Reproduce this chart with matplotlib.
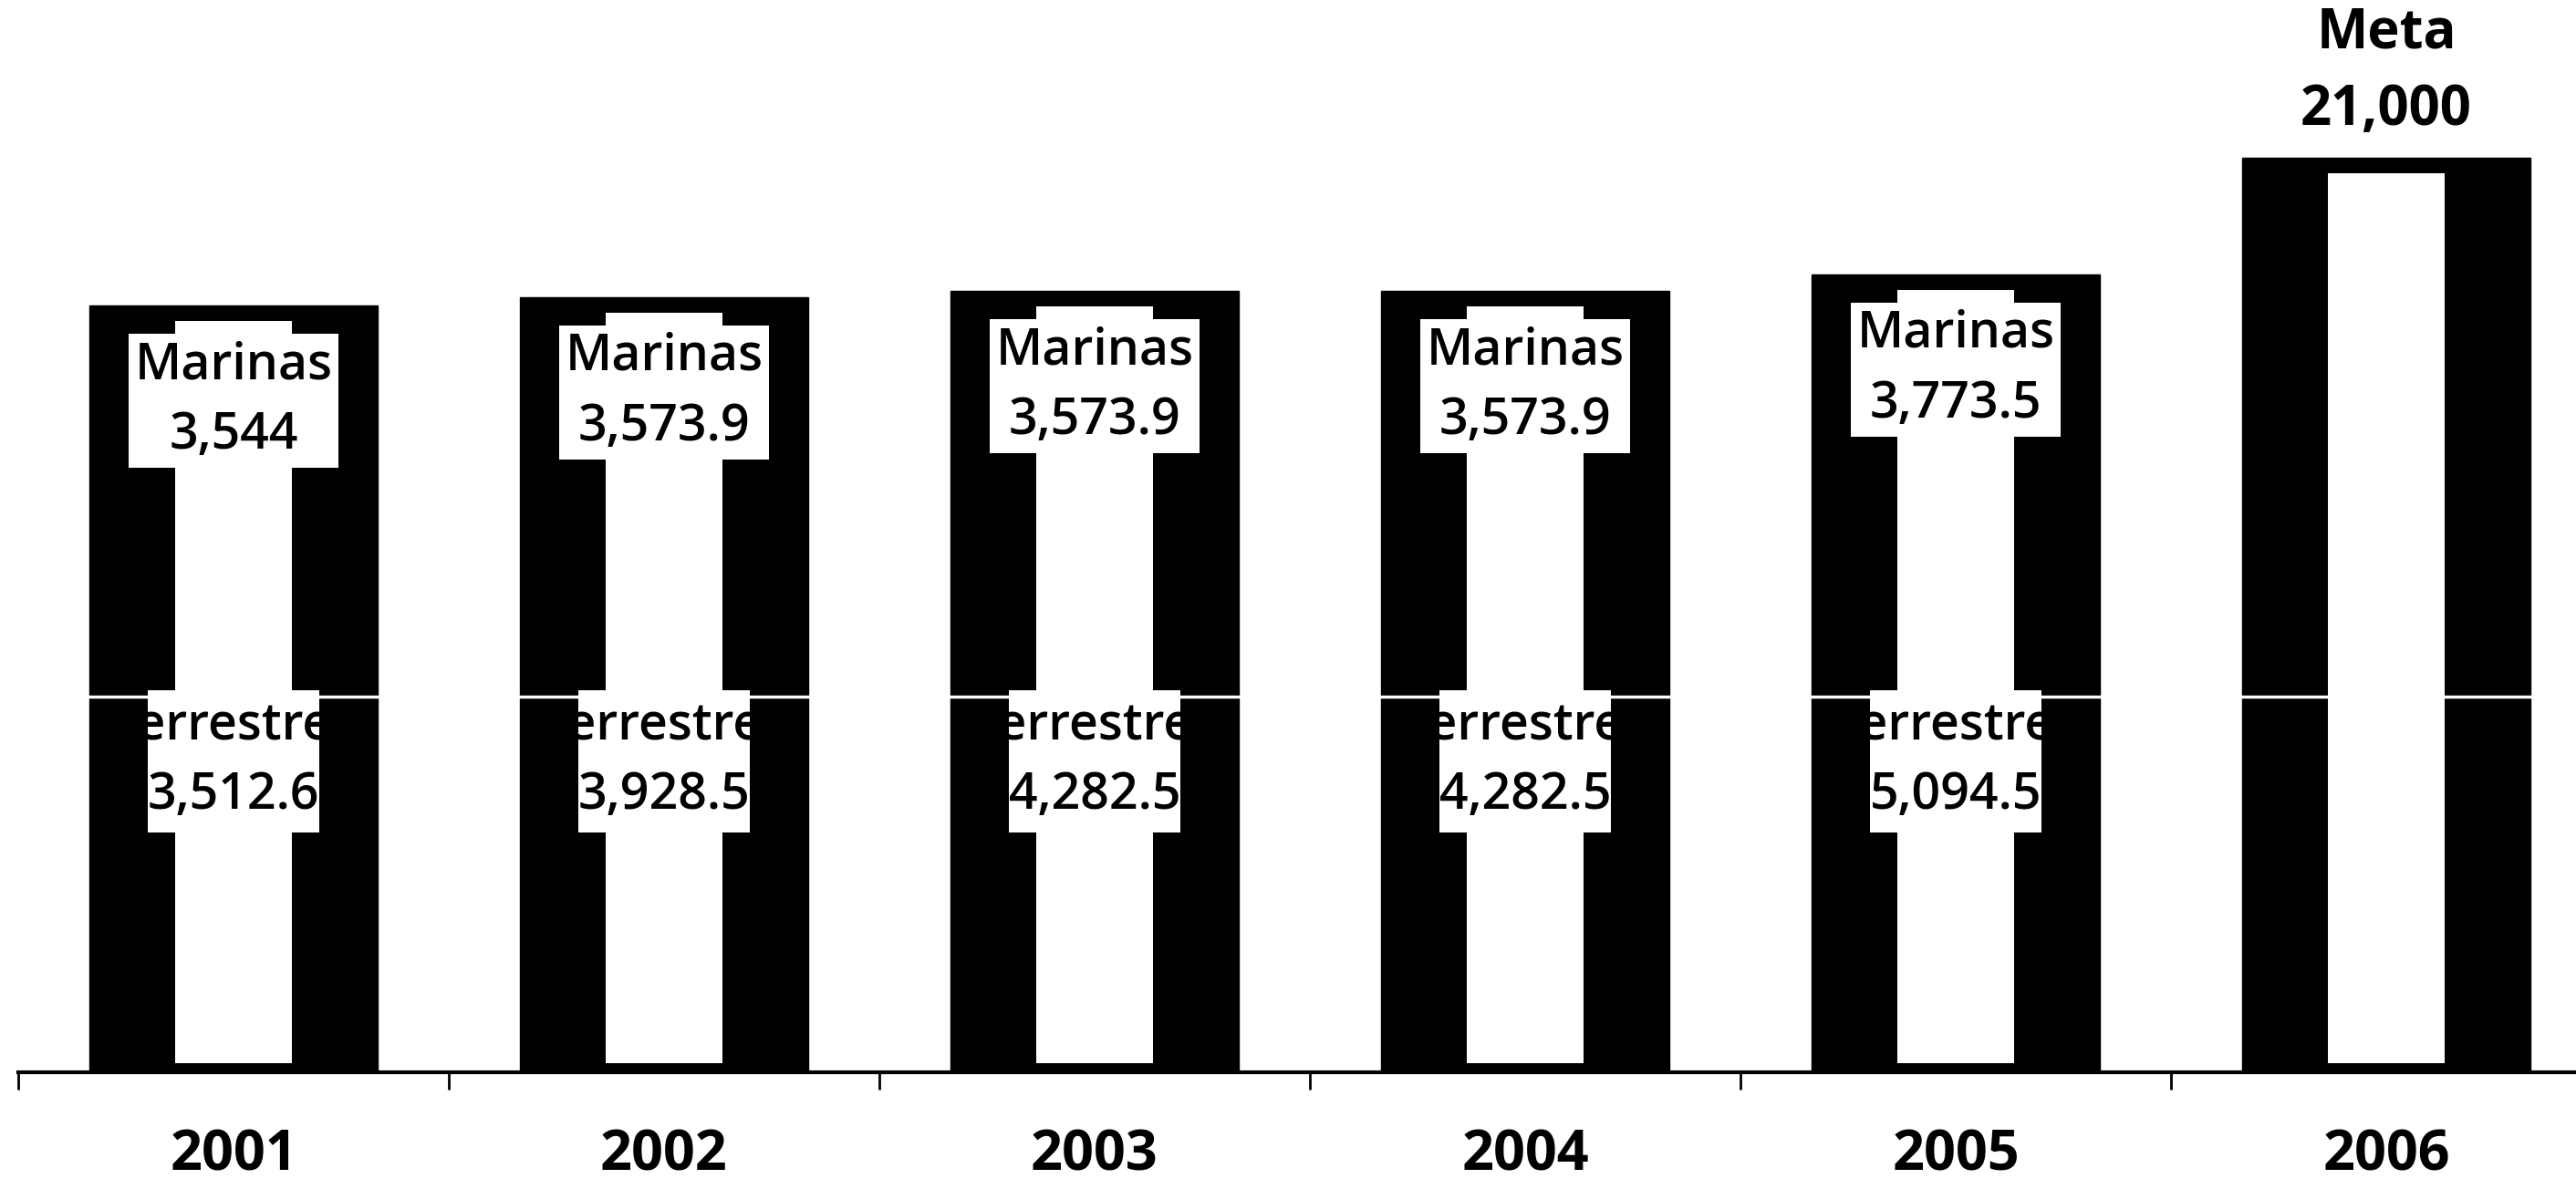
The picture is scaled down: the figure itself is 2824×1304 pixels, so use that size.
import matplotlib
matplotlib.use('Agg')
import matplotlib.pyplot as plt
from matplotlib.patches import Rectangle

plt.rcParams['font.family'] = ['Open Sans', 'DejaVu Sans']

# datos (superficie protegida, terrestre + marina; 2006 = meta)
years = ['2001', '2002', '2003', '2004', '2005', '2006']
terrestres = [3512.6, 3928.5, 4282.5, 4282.5, 5094.5]
marinas = [3544, 3573.9, 3573.9, 3573.9, 3773.5]
meta = 21000
ref_value = 400

YMIN = 25.2
YMAX = 34190
BAR_W = 0.67
STRIP_W = 0.27


def fmt(v):
    s = f'{v:,.1f}'
    if s.endswith('.0'):
        s = s[:-2]
    return s


totals = [t + m for t, m in zip(terrestres, marinas)] + [meta]
x = list(range(len(years)))

fig = plt.figure(figsize=(28.24, 13.04), dpi=100)
ax = fig.add_axes([20 / 2824, (1304 - 1176) / 1304, 1 - 20 / 2824, 1076 / 1304])
ax.set_yscale('log')
ax.set_ylim(YMIN, YMAX)
ax.set_xlim(-0.5, -0.5 + (2824 - 20) / 472)

# barras negras con columna blanca al centro
ax.bar(x, [v - YMIN for v in totals], bottom=YMIN, width=BAR_W,
       color='black', edgecolor='black', linewidth=1, zorder=2)
ax.bar(x, [v / 1.12 - YMIN * 1.07 for v in totals], bottom=YMIN * 1.07,
       width=STRIP_W, color='white', linewidth=0, zorder=3)
ax.axhline(ref_value, color='white', linewidth=2.5, zorder=4)

label_kw = dict(fontsize=40, fontweight='semibold', ha='center', va='center',
                linespacing=1.5, zorder=6)

for i, (t, m) in enumerate(zip(terrestres, marinas)):
    top = totals[i]
    ax.annotate(f'Marinas\n{fmt(m)}', (i, top), xytext=(0, -75),
                textcoords='offset points',
                bbox=dict(boxstyle='square,pad=0.12', fc='white', ec='none'),
                **label_kw)

    # la etiqueta terrestre queda recortada por su recuadro, como en el original
    clip = Rectangle((i - 0.2, 0), 0.4, 1, transform=ax.get_xaxis_transform(),
                     fill=False, visible=False)
    ax.add_patch(clip)
    txt = ax.text(i, 0.317, f'Terrestres\n{fmt(t)}', transform=ax.get_xaxis_transform(),
                  bbox=dict(boxstyle='square,pad=0.2', fc='white', ec='none'),
                  **label_kw)
    txt.set_clip_path(clip)
    txt.set_clip_on(True)

ax.annotate(f'Meta\n{fmt(meta)}', (x[-1], meta), xytext=(0, 15),
            textcoords='offset points', ha='center', va='bottom',
            fontsize=43, fontweight='bold', linespacing=1.5)

# eje
for s in ['top', 'right', 'left']:
    ax.spines[s].set_visible(False)
ax.spines['bottom'].set_linewidth(3)
ax.set_yticks([])
ax.yaxis.set_minor_locator(matplotlib.ticker.NullLocator())
ax.set_xticks(x)
ax.set_xticklabels(years, fontsize=44, fontweight='bold')
ax.set_xticks([i - 0.5 for i in x], minor=True)
ax.tick_params(axis='x', which='major', length=0, pad=44)
ax.tick_params(axis='x', which='minor', length=14, width=2, direction='out')

fig.savefig('out.png', dpi=100, facecolor='white')
